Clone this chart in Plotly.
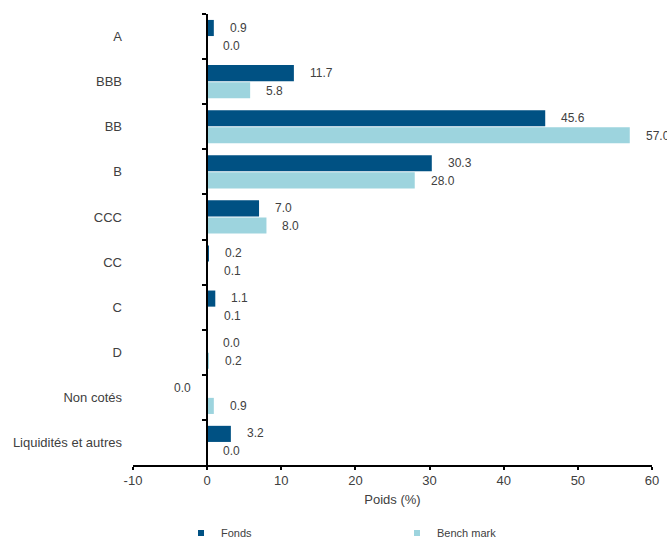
import math
import plotly.graph_objects as go

categories = ["A", "BBB", "BB", "B", "CCC", "CC", "C", "D", "Non cotés", "Liquidités et autres"]
fonds = [0.9, 11.7, 45.6, 30.3, 7.0, 0.2, 1.1, 0.0, -0.0, 3.2]
benchmark = [0.0, 5.8, 57.0, 28.0, 8.0, 0.1, 0.1, 0.2, 0.9, 0.0]
legend_names = ["Fonds", "Bench mark"]
colors = ["#005183", "#9DD4DE"]
x_ticks = [-10, 0, 10, 20, 30, 40, 50, 60]

FONT = "Liberation Sans, Arial, sans-serif"
TXT = "#404040"

fig = go.Figure()
for vals, name, col in zip([fonds, benchmark], legend_names, colors):
    fig.add_trace(go.Bar(
        x=vals, y=categories, orientation="h", name=name,
        marker=dict(color=col, line=dict(width=0)),
        hoverinfo="x+y", legendgroup=name, showlegend=False,
    ))
# small square legend keys (legend proxies, no data drawn)
for name, col in zip(legend_names, colors):
    fig.add_trace(go.Scatter(
        x=[None], y=[None], mode="markers", name=name, legendgroup=name,
        marker=dict(symbol="square", size=6, color=col), hoverinfo="skip",
    ))

# invisible helper trace so the zero-crossing axis carries the categories
fig.add_trace(go.Scatter(x=fonds, y=categories, yaxis="y2", mode="none",
                         showlegend=False, hoverinfo="skip"))

annotations = []
for vals, shift in zip([fonds, benchmark], [9, -9]):
    for cat, v in zip(categories, vals):
        positive = math.copysign(1, v) > 0
        annotations.append(dict(
            x=max(v, 0) if positive else 0, y=cat, xref="x", yref="y",
            text=f"{abs(v):.1f}", showarrow=False,
            xanchor="left" if positive else "right",
            xshift=14 if positive else -14, yshift=shift,
            font=dict(family=FONT, size=12, color=TXT),
        ))

fig.update_layout(
    width=667, height=539,
    margin=dict(l=133, r=15, t=14, b=74, autoexpand=False),
    paper_bgcolor="white", plot_bgcolor="white",
    barmode="group", bargap=0.24, bargroupgap=0.06,
    font=dict(family=FONT, size=13, color=TXT),
    annotations=annotations,
    xaxis=dict(
        range=[-10, 60], tickvals=x_ticks, ticktext=[str(t) for t in x_ticks],
        showgrid=False, zeroline=False, automargin=False,
        showline=True, linecolor="black", linewidth=1.5,
        ticks="outside", ticklen=3, tickcolor="black", tickwidth=1.5,
        tickfont=dict(size=13, color=TXT),
        title=dict(text="Poids (%)", font=dict(size=13, color=TXT), standoff=8),
    ),
    yaxis=dict(
        type="category", categoryorder="array", categoryarray=categories,
        autorange="reversed", showgrid=False, zeroline=False, showline=False,
        automargin=False, ticks="", ticklabelstandoff=10,
        tickfont=dict(size=13, color=TXT),
    ),
    yaxis2=dict(
        type="category", categoryorder="array", categoryarray=categories,
        overlaying="y", anchor="free", position=10 / 70, matches="y",
        showgrid=False, zeroline=False, showticklabels=False, automargin=False,
        showline=True, linecolor="black", linewidth=1.5,
        ticks="outside", ticklen=4, tickcolor="black", tickwidth=1.5,
        tickson="boundaries",
    ),
    legend=dict(
        orientation="h", x=0.0925, xanchor="left", y=-0.151, yanchor="middle",
        font=dict(size=11, color=TXT), entrywidth=171, entrywidthmode="pixels",
        itemwidth=30, traceorder="normal", itemsizing="trace",
    ),
    showlegend=True,
)

fig.write_html(
    "out.html",
    config={"displayModeBar": False},
    post_script="document.body.style.margin='0';document.body.style.overflow='hidden';",
)
